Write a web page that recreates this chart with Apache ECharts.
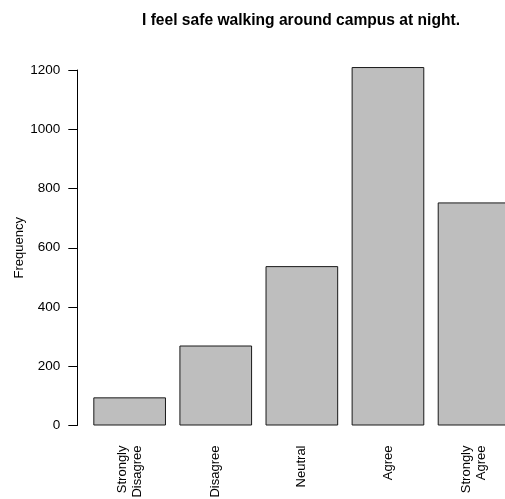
<!DOCTYPE html>
<html>
<head>
<meta charset="utf-8">
<script src="https://cdn.jsdelivr.net/npm/echarts@6/dist/echarts.min.js"></script>
<style>
  html, body { margin: 0; padding: 0; background: #fff; }
  #chart { width: 505px; height: 499px; }
</style>
</head>
<body>
<div id="chart"></div>
<script>
var titleText = 'I feel safe walking around campus at night.';
var categories = ['Strongly\nDisagree', 'Disagree', 'Neutral', 'Agree', 'Strongly\nAgree'];
var frequencies = [95, 270, 538, 1210, 753];
var yMin = 0, yMax = 1200, yStep = 200;

var font = 'Liberation Sans, Arial, Helvetica, sans-serif';

var option = {
  animation: false,
  backgroundColor: '#ffffff',
  title: {
    text: titleText,
    left: 137,
    top: 8,
    textStyle: { fontFamily: font, fontSize: 15.6, fontWeight: 'bold', color: '#000' }
  },
  grid: { left: 86.6, width: 430.5, top: 70, bottom: 73.5, outerBoundsMode: 'none', containLabel: false },
  xAxis: {
    type: 'category',
    data: categories,
    axisLine: { show: false },
    axisTick: { show: false },
    axisLabel: {
      rotate: 90,
      margin: 20,
      interval: 0,
      fontFamily: font,
      fontSize: 13,
      lineHeight: 15,
      color: '#000'
    }
  },
  yAxis: {
    type: 'value',
    min: yMin,
    max: yMax,
    interval: yStep,
    offset: 9.3,
    name: 'Frequency',
    nameLocation: 'middle',
    nameGap: 51,
    nameMoveOverlap: false,
    nameTextStyle: { fontFamily: font, fontSize: 13, color: '#000' },
    splitLine: { show: false },
    axisLine: { show: true, lineStyle: { color: '#000', width: 1 } },
    axisTick: { show: true, length: 9, lineStyle: { color: '#000', width: 1 } },
    axisLabel: {
      margin: 17, fontFamily: font, fontSize: 13.5, color: '#000',
      formatter: function (v) { return String(v); }
    }
  },
  series: [{
    type: 'bar',
    data: frequencies,
    clip: false,
    barCategoryGap: '15.6%',
    itemStyle: { color: '#bebebe', borderColor: '#1a1a1a', borderWidth: 1 }
  }]
};

echarts.init(document.getElementById('chart'), null, { renderer: 'canvas' }).setOption(option);
</script>
</body>
</html>
